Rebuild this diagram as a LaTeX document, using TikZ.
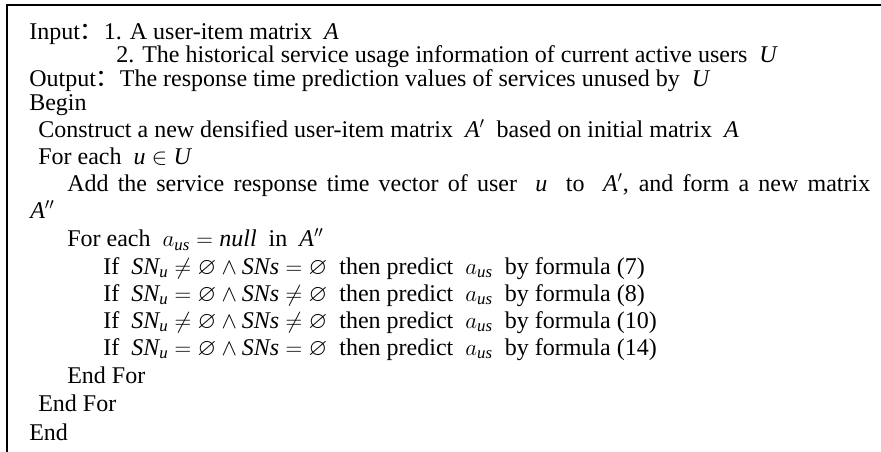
\documentclass[tikz,border=0pt]{standalone}
\usepackage{fontspec}
\usepackage{amsmath,amssymb}
\setmainfont{Liberation Serif}
\newfontfamily\cjk{Noto Sans CJK SC}
\newlength\px \setlength\px{0.75pt}
\newcommand{\iv}[1]{\text{\itshape #1}}
\newcommand{\colcn}{{\cjk ：}}
\newcommand{\cond}[2]{$\iv{SN}_{\iv{u}}#1\varnothing\wedge\iv{SNs}#2\varnothing$}

\tikzset{
  algline/.style={anchor=base west, inner sep=0pt, font=\fontsize{18}{21}\selectfont},
}

\begin{document}
\begin{tikzpicture}[x=\px, y=-\px]
\useasboundingbox (0,0) rectangle (881,452);
% frame, top and left rules only
\draw[line width=2\px] (6,5.5) -- (881,5.5);
\draw[line width=2\px] (6.5,5) -- (6.5,452);

\node[algline] (inp) at (29,40) {Input\colcn 1. A user-item matrix \ $\iv{A}$};
\node[algline] (inp2) at (116,63) {2. The historical service usage information of current active users \ $\iv{U}$};
\node[algline] (outp) at (29,87) {Output\colcn The response time prediction values of services unused by \ $\iv{U}$};
\node[algline] (begin) at (29,111) {Begin};
\node[algline] (constr) at (38,138) {Construct a new densified user-item matrix \ $\iv{A}'$ \ based on initial matrix \ $\iv{A}$};
\node[algline] (foru) at (38,165) {For each \ $\iv{u}\in\iv{U}$};
\node[algline] (add) at (67,192) {\makebox[803\px][s]{Add the service response time vector of user \ $\iv{u}$ \ to \ $\iv{A}'$, and form a new matrix}};
\node[algline] (addA) at (30,219) {$\iv{A}''$};
\node[algline] (fora) at (67,247) {For each \ $a_{\iv{us}}=\iv{null}$ \ in \ $\iv{A}''$};
\node[algline] (if7) at (103,274) {If \ \cond{\neq}{=} \ then predict \ $a_{\iv{us}}$ \ by formula (7)};
\node[algline] (if8) at (103,301) {If \ \cond{=}{\neq} \ then predict \ $a_{\iv{us}}$ \ by formula (8)};
\node[algline] (if10) at (103,328) {If \ \cond{\neq}{\neq} \ then predict \ $a_{\iv{us}}$ \ by formula (10)};
\node[algline] (if14) at (103,355) {If \ \cond{=}{=} \ then predict \ $a_{\iv{us}}$ \ by formula (14)};
\node[algline] (enda) at (67,383) {End For};
\node[algline] (endu) at (38,411) {End For};
\node[algline] (end) at (29,440) {End};
\end{tikzpicture}
\end{document}
